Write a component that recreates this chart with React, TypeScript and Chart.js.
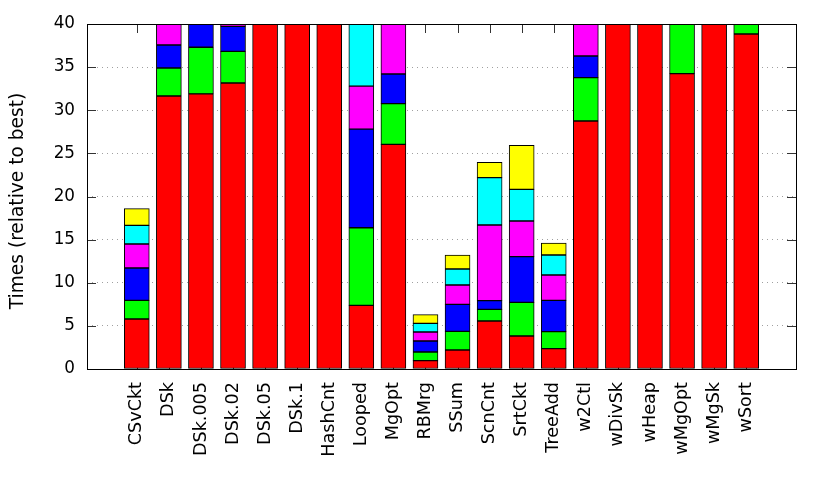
import React, { useEffect, useRef } from "react";
import { Chart, registerables } from "chart.js";

Chart.register(...registerables);

const categories = [
  "CSvCkt", "DSk", "DSk.005", "DSk.02", "DSk.05", "DSk.1", "HashCnt", "Looped", "MgOpt", "RBMrg",
  "SSum", "ScnCnt", "SrtCkt", "TreeAdd", "w2Ctl", "wDivSk", "wHeap", "wMgOpt", "wMgSk", "wSort",
];

const redValues = [5.8, 31.65, 31.9, 33.16, 45, 48, 52, 7.38, 26.05, 0.97, 2.2, 5.57, 3.83, 2.36, 28.75, 46, 50, 34.24, 44, 38.84];
const greenValues = [2.16, 3.25, 5.4, 3.67, 3, 3, 3, 9.0, 4.71, 1.0, 2.17, 1.35, 3.9, 1.97, 5.03, 3, 3, 7, 3, 2.5];
const blueValues = [3.75, 2.67, 3.5, 2.9, 3, 3, 3, 11.44, 3.44, 1.28, 3.13, 1.0, 5.29, 3.63, 2.51, 3, 3, 3, 3, 2];
const magentaValues = [2.78, 3.5, 3, 2.5, 3, 3, 3, 4.98, 6, 1.04, 2.24, 8.78, 4.14, 2.94, 4, 3, 3, 3, 3, 2];
const cyanValues = [2.17, 3, 3, 2.5, 3, 3, 3, 8, 3, 1.0, 1.85, 5.48, 3.67, 2.32, 3, 3, 3, 3, 3, 2];
const yellowValues = [1.93, 2, 2, 2, 2, 2, 2, 2, 2, 1.01, 1.63, 1.78, 5.1, 1.39, 2, 2, 2, 2, 2, 2];

const seriesNames = ["Series 1", "Series 2", "Series 3", "Series 4", "Series 5", "Series 6"];
const seriesColors = ["#ff0000", "#00ff00", "#0000ff", "#ff00ff", "#00ffff", "#ffff00"];
const seriesValues = [redValues, greenValues, blueValues, magentaValues, cyanValues, yellowValues];

const yTickValues = [0, 5, 10, 15, 20, 25, 30, 35, 40];
const yTitle = "Times (relative to best)";

const FONT = "'DejaVu Sans', sans-serif";

const framePlugin = {
  id: "gnuplotFrame",
  beforeDatasetsDraw(chart: any) {
    const { ctx, chartArea: a, scales } = chart;
    const x = scales.x;
    const y = scales.y;
    ctx.save();
    ctx.strokeStyle = "#333";
    ctx.lineWidth = 1;
    ctx.beginPath();
    y.ticks.forEach((t: any) => {
      const py = Math.round(y.getPixelForValue(t.value)) + 0.5;
      ctx.moveTo(a.left, py);
      ctx.lineTo(a.left + 9, py);
      ctx.moveTo(a.right, py);
      ctx.lineTo(a.right - 9, py);
    });
    x.ticks.forEach((t: any) => {
      const px = Math.round(x.getPixelForValue(t.value)) + 0.5;
      ctx.moveTo(px, a.top);
      ctx.lineTo(px, a.top + 9);
      ctx.moveTo(px, a.bottom);
      ctx.lineTo(px, a.bottom - 9);
    });
    ctx.stroke();
    ctx.restore();
  },
  afterDatasetsDraw(chart: any) {
    const { ctx, chartArea: a } = chart;
    ctx.save();
    ctx.strokeStyle = "#000";
    ctx.lineWidth = 1;
    ctx.strokeRect(Math.round(a.left) + 0.5, Math.round(a.top) + 0.5, Math.round(a.right - a.left), Math.round(a.bottom - a.top));
    ctx.restore();
  },
  afterDraw(chart: any) {
    const { ctx, chartArea: a } = chart;
    ctx.save();
    ctx.fillStyle = "#000";
    ctx.font = `18.6px ${FONT}`;
    ctx.textAlign = "center";
    ctx.textBaseline = "middle";
    ctx.translate(18, (a.top + a.bottom) / 2 + 4.5);
    ctx.rotate(-Math.PI / 2);
    ctx.fillText(yTitle, 0, 0);
    ctx.restore();
  },
};

export default function App() {
  const canvasRef = useRef<HTMLCanvasElement | null>(null);

  useEffect(() => {
    if (!canvasRef.current) return;
    const datasets = seriesValues.map((vals, si) => ({
      label: seriesNames[si],
      data: vals.map((v, i) => ({ x: i, y: v })),
      backgroundColor: seriesColors[si],
      borderColor: "#000",
      borderWidth: 1,
      borderSkipped: false,
      barThickness: 25,
      clip: 0,
    }));
    const chart = new Chart(canvasRef.current, {
      type: "bar",
      data: { datasets: datasets as any },
      plugins: [framePlugin],
      options: {
        animation: false,
        responsive: false,
        maintainAspectRatio: false,
        layout: { padding: { top: 24, right: 34, left: 0, bottom: 0 } },
        plugins: { legend: { display: false }, tooltip: { enabled: false } },
        scales: {
          x: {
            type: "linear",
            stacked: true,
            min: -1,
            max: 20,
            afterBuildTicks: (scale: any) => {
              scale.ticks = categories.map((_, i) => ({ value: i }));
            },
            afterFit: (scale: any) => {
              scale.height = 498 - 369;
            },
            grid: { display: false, drawTicks: false },
            border: { display: false },
            ticks: {
              autoSkip: false,
              minRotation: 90,
              maxRotation: 90,
              padding: 13,
              color: "#000",
              font: { family: FONT, size: 17.6 },
              callback: (v: any) => categories[v] ?? "",
            },
          },
          y: {
            stacked: true,
            min: 0,
            max: 40,
            afterBuildTicks: (scale: any) => {
              scale.ticks = yTickValues.map((v) => ({ value: v }));
            },
            afterFit: (scale: any) => {
              scale.width = 87;
            },
            grid: { color: "#a0a0a0", lineWidth: 1, drawTicks: false },
            border: { display: false, dash: [1, 4] },
            ticks: {
              padding: 12,
              color: "#000",
              font: { family: FONT, size: 16.8 },
            },
            title: { display: false },
          },
        },
      },
    });
    return () => chart.destroy();
  }, []);

  return (
    <div style={{ position: "absolute", left: 0, top: 0, width: 830, height: 498, background: "#fff" }}>
      <canvas ref={canvasRef} width={830} height={498} />
    </div>
  );
}
